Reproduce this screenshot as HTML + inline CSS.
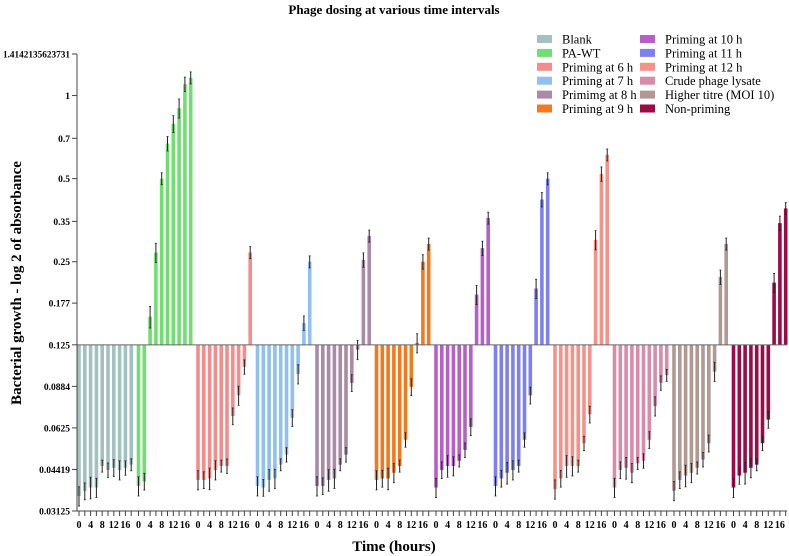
<!DOCTYPE html>
<html><head><meta charset="utf-8"><style>
html,body{margin:0;padding:0;background:#fff;}
svg{display:block;font-family:"Liberation Serif",serif;}
</style></head><body>
<svg id="chart" width="789" height="556" viewBox="0 0 789 556">
<text x="394" y="14" text-anchor="middle" font-size="13" font-weight="bold">Phage dosing at various time intervals</text>
<text transform="translate(21,283) rotate(-90)" text-anchor="middle" font-size="15" font-weight="bold">Bacterial growth - log 2 of absorbance</text>
<text x="394" y="551" text-anchor="middle" font-size="15" font-weight="bold">Time (hours)</text>
<g id="bars"></g>
<g id="axes"></g>
<g id="legend"></g>
</svg>
<script>
const groupNames = ["Blank","PA-WT","Priming at 6 h","Priming at 7 h","Primimg at 8 h","Priming at 9 h","Priming at 10 h","Priming at 11 h","Priming at 12 h","Crude phage lysate","Higher titre (MOI 10)","Non-priming"];
const groupColors = ["#a3c1bf","#6fe06f","#f48c8c","#8fc0f0","#aa8aa7","#f27a1e","#b65ec9","#7f80ef","#f79187","#d98ba9","#b29893","#9c0b46"];
const hours = [0,2,4,6,8,10,12,14,16,18];
const tickLabels = ["0","","4","","8","","12","","16",""];
const vBlank = [0.0354,0.0369,0.038,0.038,0.0455,0.044,0.0448,0.044,0.0448,0.046];
const vPAWT = [0.0385,0.040,0.158,0.27,0.5,0.67,0.79,0.9,1.10,1.16];
const v6h = [0.0405,0.0405,0.041,0.044,0.0455,0.0455,0.069,0.082,0.104,0.27];
const v7h = [0.0385,0.038,0.0405,0.041,0.046,0.05,0.068,0.098,0.15,0.25];
const v8h = [0.0385,0.0385,0.0405,0.041,0.046,0.05,0.091,0.12,0.254,0.31];
const v9h = [0.0405,0.041,0.041,0.043,0.0455,0.0566,0.088,0.127,0.25,0.29];
const v10h = [0.038,0.044,0.0455,0.0455,0.0475,0.052,0.063,0.19,0.28,0.36];
const v11h = [0.0385,0.041,0.043,0.044,0.0455,0.0566,0.082,0.2,0.42,0.5];
const v12h = [0.0375,0.041,0.0455,0.0455,0.0455,0.055,0.07,0.30,0.52,0.61];
const vCrude = [0.038,0.044,0.0448,0.043,0.0465,0.0475,0.0566,0.075,0.091,0.097];
const vMOI = [0.037,0.0405,0.042,0.043,0.0448,0.048,0.055,0.10,0.22,0.29];
const vNon = [0.038,0.042,0.043,0.0448,0.046,0.055,0.067,0.21,0.345,0.39];
const errFrac = [0.08,0.07,0.09,0.08,0.05,0.06,0.07,0.08,0.06,0.05];
const yTickValues = [1.4142135623731,1,0.7,0.5,0.35,0.25,0.177,0.125,0.0884,0.0625,0.04419,0.03125];
const yTickLabels = ["1.4142135623731","1","0.7","0.5","0.35","0.25","0.177","0.125","0.0884","0.0625","0.04419","0.03125"];
const baseline = 0.125;
const series = [vBlank,vPAWT,v6h,v7h,v8h,v9h,v10h,v11h,v12h,vCrude,vMOI,vNon];

const NS = "http://www.w3.org/2000/svg";
const X0 = 79, GSTEP = 59.5, BSTEP = 5.8, BW = 3.6;
const yTop = 54, yBot = 511;
function yScale(v){ const lo=Math.log2(0.03125), hi=Math.log2(1.4142135623731); return yBot - (Math.log2(v)-lo)/(hi-lo)*(yBot-yTop); }
function xScale(g,i){ return X0 + g*GSTEP + (hours[i]/2)*BSTEP; }
function mk(tag, attrs, parent){ const e=document.createElementNS(NS,tag); for(const k in attrs) e.setAttribute(k,attrs[k]); parent.appendChild(e); return e; }

const barsG = document.getElementById('bars');
const yb = yScale(baseline);
series.forEach((vals,g)=>{
  vals.forEach((v,i)=>{
    const x = xScale(g,i), y = yScale(v);
    const r = mk('rect',{x:x-BW/2,y:Math.min(y,yb),width:BW,height:Math.abs(yb-y),fill:groupColors[g]},barsG);
    
    
    const e = v*errFrac[i];
    const y1 = yScale(v+e), y2 = yScale(Math.max(v-e,0.001));
    const l = mk('line',{x1:x,x2:x,y1:y1,y2:y2,stroke:'#222','stroke-width':1},barsG);
    
    
    mk('line',{x1:x-1,x2:x+1,y1:y1,y2:y1,stroke:'#222','stroke-width':0.8},barsG);
    mk('line',{x1:x-1,x2:x+1,y1:y2,y2:y2,stroke:'#222','stroke-width':0.8},barsG);
  });
});

const ax = document.getElementById('axes');
const bl = mk('line',{x1:77,x2:787,y1:yb,y2:yb,stroke:'#666','stroke-width':1},ax);


const ya = mk('line',{x1:77,x2:77,y1:yTop,y2:yBot,stroke:'#444','stroke-width':1},ax);


const xa = mk('line',{x1:77,x2:787,y1:yBot,y2:yBot,stroke:'#444','stroke-width':1},ax);


yTickValues.forEach((v,i)=>{
  const y = yScale(v);
  mk('line',{x1:72,x2:77,y1:y,y2:y,stroke:'#444'},ax);
  const t = mk('text',{x:70,y:y+3.5,'text-anchor':'end','font-size':9.5,'font-weight':'bold'},ax);
  if(yTickLabels[i].length > 10){
    t.setAttribute('textLength', 67);
    t.setAttribute('lengthAdjust', 'spacingAndGlyphs');
  }
  t.textContent = yTickLabels[i];
  
  
});
series.forEach((vals,g)=>{
  hours.forEach((h,i)=>{
    const x = xScale(g,i);
    mk('line',{x1:x,x2:x,y1:yBot,y2:yBot+5,stroke:'#444'},ax);
    if(tickLabels[i]){
      const t = mk('text',{x:x,y:yBot+17,'text-anchor':'middle','font-size':10,'font-weight':'bold'},ax);
      t.textContent = tickLabels[i];
      
      
    }
  });
});

const lg = document.getElementById('legend');
groupNames.forEach((n,i)=>{
  const col = Math.floor(i/6), row = i%6;
  const sx = col===0 ? 537 : 640, sy = 39 + row*13.9;
  const it = mk('g',{},lg);
  
  
  mk('rect',{x:sx,y:sy-4,width:15,height:8,fill:groupColors[i]},it);
  const t = mk('text',{x:sx+25,y:sy+4.5,'font-size':12.5},it);
  t.textContent = n;
});
</script>
</body></html>
